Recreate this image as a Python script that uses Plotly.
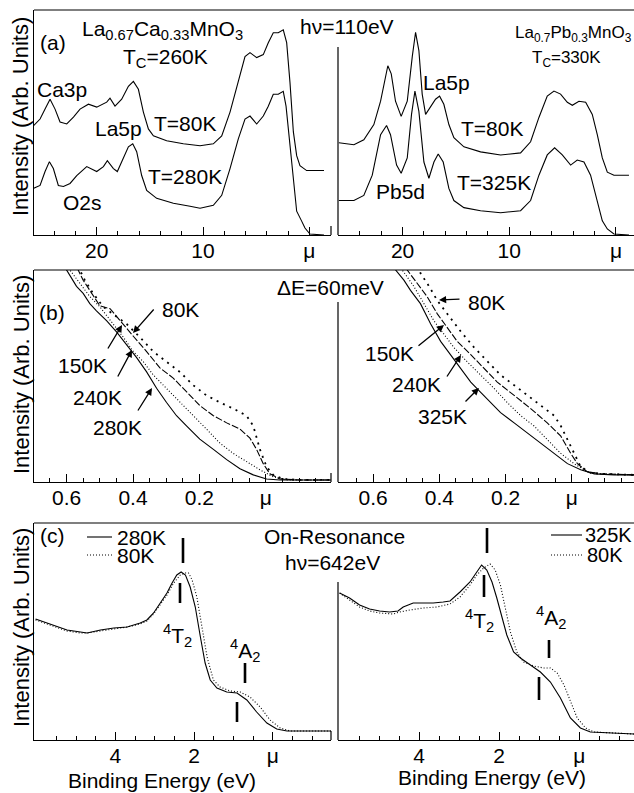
import plotly.graph_objects as go

W, H = 634, 793
FONT = "Liberation Sans, Arial, sans-serif"


def X(px):
    return px / W


def Y(py):
    return 1 - py / H


# ---------------- Panel (a): valence band, hv = 110 eV ----------------
a_lcmo_80K_E = [25.96, 25.33, 24.86, 24.39, 23.92, 23.45, 22.82, 22.19, 21.57, 20.78, 20.0, 19.06, 18.75,
                18.28, 17.65, 17.02, 16.55, 16.08, 15.61, 15.14, 14.67, 13.42, 11.85, 10.28, 9.03, 8.24,
                7.46, 6.83, 6.05, 5.58, 4.95, 4.33, 3.86, 3.39, 2.92, 2.45, 2.13, 1.82, 1.50, 1.19, 0.88,
                0.25, -1.38]
a_lcmo_80K_I = [110, 117, 127, 137, 127, 114, 112, 119, 127, 132, 129, 134, 138, 130, 137, 150, 155, 147,
                124, 107, 100, 95, 92, 90, 92, 100, 124, 150, 180, 184, 179, 182, 194, 204, 204, 207, 194,
                154, 104, 80, 70, 65, 65]
a_lcmo_280K_E = [25.96, 25.33, 24.86, 24.45, 24.08, 23.61, 23.13, 22.51, 21.88, 20.94, 20.0, 19.37, 19.0,
                 18.43, 18.06, 17.49, 17.02, 16.61, 16.24, 15.77, 15.30, 14.36, 12.79, 11.22, 10.28, 9.03,
                 8.24, 7.46, 6.68, 6.05, 5.58, 4.95, 4.33, 3.86, 3.39, 2.92, 2.45, 2.19, 1.88, 1.50, 1.19,
                 0.72, 0.41, -0.06, -1.38]
a_lcmo_280K_I = [47, 50, 64, 74, 67, 50, 49, 52, 60, 69, 64, 69, 75, 67, 64, 77, 89, 92, 84, 60, 45, 37,
                 32, 29, 27, 30, 40, 67, 97, 117, 120, 112, 120, 130, 142, 142, 145, 130, 97, 50, 24, 14,
                 7, 1, 0]

a_lpmo_80K_E = [25.97, 24.56, 23.63, 22.69, 22.06, 21.59, 21.38, 21.06, 20.66, 20.13, 19.56, 19.09, 18.78,
                18.47, 18.16, 17.84, 17.38, 16.91, 16.53, 16.13, 15.66, 15.19, 14.25, 12.69, 10.81, 8.94,
                8.0, 7.22, 6.44, 5.81, 5.19, 4.56, 4.09, 3.47, 2.84, 2.22, 1.75, 1.28, 0.81, 0.19, -1.22]
a_lpmo_80K_I = [91, 89, 94, 109, 132, 159, 167, 159, 132, 117, 132, 176, 200, 182, 139, 119, 126, 134,
                137, 129, 109, 96, 87, 82, 79, 81, 92, 116, 137, 142, 139, 131, 128, 132, 131, 119, 99,
                76, 62, 59, 59]
a_lpmo_325K_E = [25.97, 24.56, 23.63, 22.84, 22.06, 21.5, 21.13, 20.56, 20.13, 19.56, 19.16, 18.84, 18.47,
                 18.0, 17.53, 17.06, 16.66, 16.19, 15.66, 15.19, 14.25, 12.69, 10.81, 8.94, 8.0, 7.22,
                 6.44, 5.75, 5.03, 4.25, 3.63, 3.0, 2.38, 1.75, 1.28, 0.81, 0.19, -1.22]
a_lpmo_325K_I = [34, 34, 39, 59, 99, 108, 99, 69, 61, 76, 119, 142, 122, 72, 56, 72, 80, 72, 46, 34, 27,
                 24, 22, 24, 34, 59, 79, 86, 79, 69, 74, 72, 59, 32, 14, 6, 1, 0]

# ---------------- Panel (b): near E_F, resolution 60 meV ----------------
b_lcmo_280K_E = [0.615, 0.600, 0.585, 0.570, 0.550, 0.530, 0.510, 0.479, 0.449, 0.419, 0.389, 0.359, 0.329,
                 0.299, 0.269, 0.239, 0.199, 0.158, 0.118, 0.078, 0.038, -0.002, -0.042, -0.102, -0.196]
b_lcmo_280K_I = [218, 208, 200, 192, 185, 175, 168, 158, 147, 135, 122, 108, 92, 78, 65, 55, 42, 32, 22,
                 13, 7, 3, 2, 2, 2]
b_lcmo_240K_E = [0.605, 0.590, 0.560, 0.530, 0.500, 0.459, 0.429, 0.399, 0.369, 0.339, 0.299, 0.259, 0.219,
                 0.179, 0.138, 0.098, 0.058, 0.018, -0.022, -0.062, -0.196]
b_lcmo_240K_I = [218, 208, 195, 182, 172, 155, 142, 128, 118, 105, 92, 78, 65, 52, 38, 28, 20, 12, 5, 2, 2]
b_lcmo_150K_E = [0.58, 0.565, 0.550, 0.530, 0.500, 0.469, 0.439, 0.399, 0.359, 0.319, 0.279, 0.239, 0.199,
                 0.158, 0.118, 0.078, 0.048, 0.028, 0.008, -0.012, -0.042, -0.102, -0.196]
b_lcmo_150K_I = [218, 208, 198, 188, 173, 170, 158, 143, 128, 112, 102, 88, 75, 65, 58, 52, 43, 32, 18, 8,
                 3, 2, 2]
b_lcmo_80K_E = [0.575, 0.560, 0.545, 0.520, 0.490, 0.449, 0.419, 0.379, 0.339, 0.299, 0.259, 0.219, 0.179,
                0.138, 0.098, 0.058, 0.038, 0.018, -0.002, -0.022, -0.052, -0.102, -0.196]
b_lcmo_80K_I = [218, 208, 198, 185, 172, 162, 155, 142, 128, 118, 108, 95, 85, 78, 72, 65, 55, 32, 15, 7,
                3, 2, 2]

b_lpmo_325K_E = [0.547, 0.532, 0.507, 0.487, 0.457, 0.426, 0.396, 0.366, 0.336, 0.305, 0.275, 0.245, 0.215,
                 0.174, 0.134, 0.094, 0.053, 0.013, -0.027, -0.068, -0.128, -0.189]
b_lpmo_325K_I = [218, 208, 198, 188, 175, 155, 138, 125, 112, 98, 88, 78, 68, 58, 48, 38, 28, 18, 12, 8,
                 7, 7]
b_lpmo_240K_E = [0.527, 0.512, 0.477, 0.447, 0.416, 0.386, 0.356, 0.316, 0.275, 0.235, 0.195, 0.154, 0.114,
                 0.074, 0.033, -0.007, -0.047, -0.088, -0.189]
b_lpmo_240K_I = [218, 208, 192, 175, 158, 145, 132, 118, 105, 92, 78, 65, 55, 42, 28, 18, 10, 8, 7]
b_lpmo_150K_E = [0.512, 0.497, 0.467, 0.437, 0.406, 0.376, 0.346, 0.305, 0.265, 0.225, 0.174, 0.124, 0.074,
                 0.033, 0.003, -0.017, -0.047, -0.088, -0.189]
b_lpmo_150K_I = [218, 208, 195, 182, 165, 152, 138, 125, 112, 98, 85, 72, 58, 45, 28, 18, 10, 8, 7]
b_lpmo_80K_E = [0.467, 0.457, 0.431, 0.406, 0.376, 0.336, 0.295, 0.255, 0.215, 0.174, 0.134, 0.094, 0.053,
                0.033, 0.013, -0.007, -0.027, -0.057, -0.088, -0.189]
b_lpmo_80K_I = [212, 205, 192, 178, 165, 148, 132, 118, 105, 95, 85, 75, 65, 55, 42, 28, 15, 9, 8, 7]

# ---------------- Panel (c): on-resonance, hv = 642 eV ----------------
c_lcmo_280K_E = [6.03, 5.82, 5.56, 5.23, 4.89, 4.72, 4.38, 4.04, 3.70, 3.37, 3.20, 3.03, 2.86, 2.69, 2.56,
                 2.44, 2.33, 2.22, 2.10, 1.97, 1.84, 1.72, 1.59, 1.42, 1.17, 0.91, 0.66, 0.41, 0.15, -0.10,
                 -0.36, -1.48]
c_lcmo_280K_I = [121, 118, 114, 110, 108, 107, 110, 112, 113, 117, 120, 127, 137, 147, 157, 165, 168, 165,
                 153, 133, 103, 77, 60, 52, 48, 47, 40, 28, 17, 11, 9, 9]
c_lcmo_80K_E = [6.03, 5.82, 5.56, 5.23, 4.89, 4.72, 4.38, 4.04, 3.70, 3.37, 3.20, 3.03, 2.86, 2.69, 2.52,
                2.35, 2.22, 2.14, 2.05, 1.93, 1.80, 1.67, 1.51, 1.34, 1.08, 0.83, 0.58, 0.32, 0.07, -0.19,
                -0.44, -1.48]
c_lcmo_80K_I = [120, 117, 113, 109, 107, 107, 109, 111, 113, 116, 119, 126, 135, 145, 157, 165, 167, 167,
                160, 143, 113, 83, 60, 53, 49, 48, 43, 33, 20, 12, 9, 9]

c_lpmo_325K_E = [5.99, 5.74, 5.49, 5.24, 4.99, 4.74, 4.53, 4.40, 4.15, 3.90, 3.65, 3.40, 3.23, 2.98, 2.73,
                 2.56, 2.44, 2.31, 2.18, 2.06, 1.93, 1.81, 1.64, 1.47, 1.22, 0.97, 0.72, 0.47, 0.22, -0.03,
                 -0.28, -1.37]
c_lpmo_325K_I = [147, 142, 135, 131, 129, 128, 129, 133, 137, 137, 137, 138, 139, 148, 158, 168, 175, 170,
                 158, 142, 122, 105, 88, 82, 75, 68, 58, 42, 22, 12, 8, 6]
c_lpmo_80K_E = [5.99, 5.74, 5.49, 5.24, 4.99, 4.65, 4.49, 4.23, 3.90, 3.56, 3.23, 2.98, 2.73, 2.56, 2.39,
                2.23, 2.10, 1.97, 1.85, 1.72, 1.56, 1.39, 1.14, 0.89, 0.72, 0.55, 0.38, 0.22, 0.05, -0.16,
                -0.37, -1.37]
c_lpmo_80K_I = [147, 140, 133, 129, 127, 126, 128, 130, 132, 133, 136, 143, 155, 165, 172, 176, 170, 155,
                132, 108, 88, 78, 74, 72, 72, 67, 55, 38, 22, 12, 8, 6]

# tick labels
a_ticks = [20, 10, 0]
a_ticktext = ["20", "10", "μ"]
a_minor = [24, 22, 18, 16, 14, 12, 8, 6, 4, 2]
b_ticks = [0.6, 0.4, 0.2, 0]
b_ticktext = ["0.6", "0.4", "0.2", "μ"]
b_minor = [0.65, 0.55, 0.5, 0.45, 0.35, 0.3, 0.25, 0.15, 0.1, 0.05, -0.05, -0.1, -0.15]
c_ticks = [4, 2, 0]
c_ticktext = ["4", "2", "μ"]
c_minor = [5.5, 5.0, 4.5, 3.5, 3.0, 2.5, 1.5, 1.0, 0.5, -0.5, -1.0]

fig = go.Figure()

SOLID = dict(color="black", width=1.1)
FINEDOT = dict(color="black", width=1.1, dash="1px,2px")
SPARSEDOT = dict(color="black", width=1.8, dash="2px,5px")
DASHED = dict(color="black", width=1.1, dash="7px,2px")


def add(E, I, n, line):
    sfx = "" if n == 1 else str(n)
    fig.add_trace(go.Scatter(x=E, y=I, mode="lines", line=line, xaxis="x" + sfx, yaxis="y" + sfx,
                             showlegend=False, hoverinfo="skip"))


add(a_lcmo_80K_E, a_lcmo_80K_I, 1, SOLID)
add(a_lcmo_280K_E, a_lcmo_280K_I, 1, SOLID)
add(a_lpmo_80K_E, a_lpmo_80K_I, 2, SOLID)
add(a_lpmo_325K_E, a_lpmo_325K_I, 2, SOLID)

add(b_lcmo_280K_E, b_lcmo_280K_I, 3, SOLID)
add(b_lcmo_240K_E, b_lcmo_240K_I, 3, FINEDOT)
add(b_lcmo_150K_E, b_lcmo_150K_I, 3, DASHED)
add(b_lcmo_80K_E, b_lcmo_80K_I, 3, SPARSEDOT)
add(b_lpmo_325K_E, b_lpmo_325K_I, 4, SOLID)
add(b_lpmo_240K_E, b_lpmo_240K_I, 4, FINEDOT)
add(b_lpmo_150K_E, b_lpmo_150K_I, 4, DASHED)
add(b_lpmo_80K_E, b_lpmo_80K_I, 4, SPARSEDOT)

add(c_lcmo_280K_E, c_lcmo_280K_I, 5, SOLID)
add(c_lcmo_80K_E, c_lcmo_80K_I, 5, FINEDOT)
add(c_lpmo_325K_E, c_lpmo_325K_I, 6, SOLID)
add(c_lpmo_80K_E, c_lpmo_80K_I, 6, FINEDOT)


def xax(x0, x1, rng, ticks, text, minor, anchor):
    return dict(domain=[X(x0), X(x1)], range=rng, anchor=anchor, tickmode="array", tickvals=ticks,
                ticktext=text, ticks="inside", ticklen=8, tickwidth=1, tickcolor="black",
                showline=True, linecolor="black", linewidth=1.2, showgrid=False, zeroline=False,
                ticklabelstandoff=-3,
                tickfont=dict(size=21, color="black", family=FONT),
                minor=dict(tickmode="array", tickvals=minor, ticks="inside", ticklen=4, tickwidth=1,
                           tickcolor="black", showgrid=False))


def yax(y0, y1, rng, anchor, line):
    return dict(domain=[Y(y1), Y(y0)], range=rng, anchor=anchor, showline=line, linecolor="black",
                linewidth=1.2, showticklabels=False, ticks="", showgrid=False, zeroline=False)


LX0, LX1, RX0, RX1 = 34, 331, 338, 634
layout = dict(
    width=W, height=H, margin=dict(l=0, r=0, t=0, b=0), paper_bgcolor="white", plot_bgcolor="white",
    font=dict(family=FONT, size=21, color="black"), showlegend=False,
    xaxis=xax(LX0, LX1, [25.9, -2.04], a_ticks, a_ticktext, a_minor, "y"),
    yaxis=yax(10, 235, [0, 227], "x", True),
    xaxis2=xax(RX0, RX1, [26.05, -1.69], a_ticks, a_ticktext, a_minor, "y2"),
    yaxis2=yax(10, 235, [0, 222], "x2", False),
    xaxis3=xax(LX0, LX1, [0.698, -0.196], b_ticks, b_ticktext, b_minor, "y3"),
    yaxis3=yax(270, 482, [0, 208], "x3", True),
    xaxis4=xax(RX0, RX1, [0.706, -0.188], b_ticks, b_ticktext, b_minor, "y4"),
    yaxis4=yax(270, 482, [0, 208], "x4", False),
    xaxis5=xax(LX0, LX1, [6.07, -1.48], c_ticks, c_ticktext, c_minor, "y5"),
    yaxis5=yax(523, 740, [0, 217], "x5", True),
    xaxis6=xax(RX0, RX1, [6.03, -1.37], c_ticks, c_ticktext, c_minor, "y6"),
    yaxis6=yax(523, 740, [0, 217], "x6", False),
)
fig.update_layout(**layout)

shapes = []


def seg(x0, y0, x1, y1, w=1.2, dash=None):
    ln = dict(color="black", width=w)
    if dash:
        ln["dash"] = dash
    shapes.append(dict(type="line", xref="paper", yref="paper", x0=X(x0), y0=Y(y0), x1=X(x1), y1=Y(y1),
                       line=ln, layer="above"))


# frame lines
for yy in (10, 270, 523):
    seg(LX0, yy, 634, yy)
seg(RX0, 47, RX0, 235)
seg(RX0, 302, RX0, 482)
seg(RX0, 582, RX0, 740)
for yb in (235, 482, 740):
    seg(LX1, yb, LX1, yb - 9)

# peak markers in (c)
for (xx, ya, yb) in [(183, 538, 563), (180, 583, 603), (245, 663, 683), (237, 702, 722),
                     (487, 528, 553), (484, 575, 597), (549, 640, 658), (539, 677, 700)]:
    seg(xx, ya, xx, yb, w=2.6)

# legend lines in (c)
seg(87, 537, 112, 537, w=1.1)
seg(87, 555, 112, 555, w=1.1, dash="1px,2px")
seg(551, 535, 582, 535, w=1.1)
seg(551, 555, 582, 555, w=1.1, dash="1px,2px")

fig.update_layout(shapes=shapes)

anns = []


def txt(t, px, py, size=21, xanchor="center", angle=0):
    anns.append(dict(text=t, x=X(px), y=Y(py), xref="paper", yref="paper", showarrow=False,
                     xanchor=xanchor, yanchor="middle", textangle=angle,
                     font=dict(size=size, family=FONT, color="black")))


def arrow(tx, ty, hx, hy):
    anns.append(dict(text="", x=X(hx), y=Y(hy), xref="paper", yref="paper", ax=tx - hx, ay=ty - hy,
                     showarrow=True, arrowhead=2, arrowsize=1.1, arrowwidth=1.3, arrowcolor="black",
                     standoff=0, startstandoff=0))


# y labels
for cy in (117, 375, 628):
    txt("Intensity (Arb. Units)", 21, cy, size=22, angle=-90)

# panel (a)
txt("(a)", 53, 43)
txt("La<sub>0.67</sub>Ca<sub>0.33</sub>MnO<sub>3</sub>", 162, 30)
txt("T<sub>C</sub>=260K", 165, 58)
txt("Ca3p", 62, 90)
txt("La5p", 118, 128)
txt("T=80K", 185, 124)
txt("T=280K", 185, 177)
txt("O2s", 82, 202)
txt("hν=110eV", 347, 27)
txt("La<sub>0.7</sub>Pb<sub>0.3</sub>MnO<sub>3</sub>", 573, 34, size=17)
txt("T<sub>C</sub>=330K", 566, 59, size=17)
txt("La5p", 446, 83)
txt("T=80K", 492, 128)
txt("T=325K", 494, 182)
txt("Pb5d", 401, 192)

# panel (b)
txt("(b)", 52, 312)
txt("ΔE=60meV", 330, 287)
txt("80K", 180, 310)
txt("150K", 82, 365)
txt("240K", 97, 397)
txt("280K", 117, 427)
txt("80K", 486, 302)
txt("150K", 389, 353)
txt("240K", 416, 385)
txt("325K", 442, 417)
arrow(155, 308, 133, 333)
arrow(107, 350, 122, 325)
arrow(117, 378, 132, 350)
arrow(137, 412, 152, 388)
arrow(461, 299, 439, 300)
arrow(417, 347, 444, 325)
arrow(446, 378, 461, 355)
arrow(464, 403, 479, 388)

# panel (c)
txt("(c)", 53, 535)
txt("280K", 115, 537, xanchor="left")
txt("80K", 115, 555, xanchor="left")
txt("325K", 583, 535, size=20, xanchor="left")
txt("80K", 585, 555, size=20, xanchor="left")
txt("On-Resonance", 334, 536)
txt("hν=642eV", 333, 562)
txt("<sup>4</sup>T<sub>2</sub>", 178, 635)
txt("<sup>4</sup>A<sub>2</sub>", 245, 650)
txt("<sup>4</sup>T<sub>2</sub>", 479, 620)
txt("<sup>4</sup>A<sub>2</sub>", 551, 617)
txt("Binding Energy (eV)", 162, 780)
txt("Binding Energy (eV)", 492, 777)

fig.update_layout(annotations=anns)
fig.write_html("out.html", post_script="document.body.style.margin='0';",
               config={"displayModeBar": False})
